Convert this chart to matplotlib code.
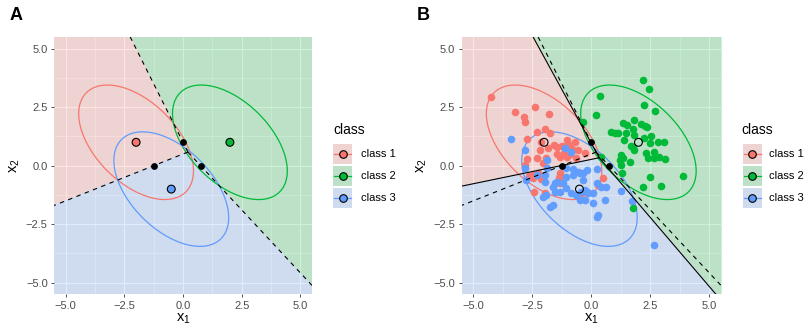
import numpy as np
import matplotlib
matplotlib.use('Agg')
import matplotlib.pyplot as plt
from matplotlib.patches import Ellipse, Rectangle

plt.rcParams['font.family'] = ['Liberation Sans', 'DejaVu Sans']
plt.rcParams['mathtext.fontset'] = 'custom'
plt.rcParams['mathtext.rm'] = 'Liberation Sans'
plt.rcParams['mathtext.it'] = 'Liberation Sans'
plt.rcParams['mathtext.default'] = 'regular'

# ---------------- data ----------------
class_names = ['class 1', 'class 2', 'class 3']
class_colors = ['#F8766D', '#00BA38', '#619CFF']
means_x1 = [-2.0, 2.0, -0.5]
means_x2 = [1.0, 1.0, -1.0]
cov = [[1.0, -0.5], [-0.5, 1.0]]
ellipse_chi2 = 5.991  # 95% level

# estimated boundaries (panel B)
est_triple = [0.34, 0.34]
est_slope_12 = -1.84
est_slope_13 = 0.208
est_slope_23 = -1.18

# sample points (panel B)
c1_x1 = [-4.27, -3.24, -2.40, -2.85, -2.82, -1.80, -2.32, -1.97, -1.74, -2.72,
         -2.11, -1.60, -1.44, -1.25, -1.04, -0.97, -0.84, -0.55, -0.70, -1.33,
         -1.04, -0.64, -0.28, -1.82, -2.31, -2.74, -2.03, -1.91, -2.19, -2.82,
         -2.63, -2.46, -2.26, -2.12, -1.33, -1.36, -1.33, -2.42, -1.97, 0.51,
         0.30, -0.41, -0.78, -1.15, -0.90, -1.47, -2.47, -1.34]
c1_x2 = [2.94, 2.30, 2.52, 2.06, 1.85, 2.22, 1.46, 1.55, 1.40, 1.15,
         1.00, 0.88, 0.79, 0.84, 1.10, 0.93, 0.75, 0.67, 1.03, 0.38,
         0.36, 0.32, 0.53, 0.74, 0.32, 0.29, 0.10, 0.32, 0.67, 0.03,
         -0.44, -0.54, -0.33, -0.58, -0.33, -0.54, -0.75, -1.12, -1.18, -0.54,
         -0.82, -1.15, 0.67, 0.55, 0.50, 0.50, -0.40, -0.40]

c2_x1 = [2.18, 2.43, 0.35, 2.22, 2.69, 0.22, -0.33, 1.34, 1.53, 1.81,
         2.12, 2.26, 2.37, 1.77, 0.85, 0.99, 1.15, 1.46, 1.81, 2.54,
         2.23, 1.37, 1.69, 1.81, 2.50, 2.83, 3.07, 2.31, 2.66, 2.40,
         2.66, 2.86, 3.11, 1.64, 1.25, 1.20, 1.27, 1.30, 2.47, 3.89,
         2.19, 2.94, 1.77, 0.43, 1.78, 1.36]
c2_x2 = [3.66, 3.27, 2.97, 2.58, 2.35, 2.16, 1.88, 1.84, 1.74, 1.97,
         1.78, 1.70, 1.67, 1.56, 1.45, 1.41, 1.38, 1.38, 1.31, 1.27,
         1.17, 1.10, 0.84, 0.67, 0.98, 1.03, 1.03, 0.56, 0.60, 0.34,
         0.32, 0.36, 0.27, 0.16, 0.46, 0.24, 0.03, -0.30, -0.47, -0.43,
         -0.90, -0.87, -1.82, 0.36, 0.78, 0.31]

c3_x1 = [-3.42, -2.81, -1.89, -2.82, -1.12, -0.86, -1.96, -2.77, -2.32, -1.94,
         -1.61, -1.47, -1.19, -1.06, -0.78, -0.49, -0.35, -0.17, 0.25, -1.53,
         -1.34, -1.06, -0.85, -0.64, -0.42, -0.25, -0.14, 0.07, 0.42, 0.64,
         0.57, 0.07, -1.62, -1.76, 0.28, 0.25, -0.28, -0.48, -1.91, -2.03,
         1.27, 1.72, 2.68, -1.05, -0.76, -0.55, -0.34, 0.23, -1.89, -1.54,
         -0.20]
c3_x2 = [1.14, 0.65, 0.24, -0.11, 0.76, 0.57, -0.40, -0.61, -0.40, -0.68,
         -0.90, -0.68, -0.75, -0.11, -0.15, -0.33, -0.33, -0.18, -0.15, -0.75,
         -1.11, -0.97, -1.18, -1.25, -1.11, -1.04, -1.18, -1.18, -0.90, -0.90,
         -1.47, -1.58, -1.68, -1.75, -2.11, -2.21, -1.47, -1.47, -1.25, -1.32,
         -1.07, -1.51, -3.39, -0.47, -0.40, -0.26, -0.61, -0.73, -0.11, -1.11,
         -1.11]

tick_values = [-5.0, -2.5, 0.0, 2.5, 5.0]
tick_labels = ['\u22125.0', '\u22122.5', '0.0', '2.5', '5.0']
minor_values = [-3.75, -1.25, 1.25, 3.75]

# ---------------- helpers ----------------
W_PX, H_PX = 806, 325
fig = plt.figure(figsize=(W_PX / 100, H_PX / 100), dpi=100)

LIM = 5.5
REGION_ALPHA = 0.2


def px_axes(x0, y0, x1, y1):
    return fig.add_axes([x0 / W_PX, 1 - y1 / H_PX, (x1 - x0) / W_PX, (y1 - y0) / H_PX])


def style(ax):
    ax.set_xlim(-LIM, LIM)
    ax.set_ylim(-LIM, LIM)
    ax.set_facecolor('#EBEBEB')
    ax.set_xticks(tick_values)
    ax.set_xticklabels(tick_labels)
    ax.set_yticks(tick_values)
    ax.set_yticklabels(tick_labels)
    ax.set_xticks(minor_values, minor=True)
    ax.set_yticks(minor_values, minor=True)
    ax.set_axisbelow(True)
    ax.grid(which='major', color='white', lw=0.8)
    ax.grid(which='minor', color='white', lw=0.4)
    for s in ax.spines.values():
        s.set_visible(False)
    ax.tick_params(which='major', length=2.5, width=0.6, color='#333333',
                   labelcolor='#4D4D4D', labelsize=8, pad=2)
    ax.tick_params(which='minor', length=0)
    ax.set_xlabel('$x_1$', fontsize=10.5, labelpad=1)
    ax.set_ylabel('$x_2$', fontsize=10.5, labelpad=3)


grid = np.linspace(-LIM, LIM, 800)
GX, GY = np.meshgrid(grid, grid)
rgb = np.array([matplotlib.colors.to_rgb(c) for c in class_colors])


def draw_regions(ax, labels):
    img = np.zeros(labels.shape + (4,))
    img[..., :3] = rgb[labels]
    img[..., 3] = REGION_ALPHA
    ax.imshow(img, extent=(-LIM, LIM, -LIM, LIM), origin='lower',
              interpolation='nearest', aspect='auto', zorder=0.8)


mu = np.column_stack([means_x1, means_x2])
S = np.array(cov)
Sinv = np.linalg.inv(S)
Wd = mu @ Sinv
bd = -0.5 * np.sum(Wd * mu, axis=1)
true_labels = np.argmax(np.stack([GX * Wd[k, 0] + GY * Wd[k, 1] + bd[k] for k in range(3)]), axis=0)

# true triple point
A = np.array([Wd[0] - Wd[1], Wd[0] - Wd[2]])
rhs = -np.array([bd[0] - bd[1], bd[0] - bd[2]])
T_true = np.linalg.solve(A, rhs)

pairs = [(0, 1, 2), (0, 2, 1), (1, 2, 0)]


def true_rays():
    rays = []
    for k, l, m in pairs:
        n = Wd[k] - Wd[l]
        d = np.array([-n[1], n[0]])
        d /= np.linalg.norm(d)
        if (Wd[k] - Wd[m]) @ d < 0:
            d = -d
        rays.append(d)
    return rays


def draw_rays(ax, T, rays, ls):
    for d in rays:
        ax.plot([T[0], T[0] + 30 * d[0]], [T[1], T[1] + 30 * d[1]], color='black',
                lw=0.8, ls=ls, zorder=4)


# estimated rays
est_T = np.array(est_triple)
r12 = np.array([-1.0, -est_slope_12]); r12 /= np.linalg.norm(r12)
r13 = np.array([-1.0, -est_slope_13]); r13 /= np.linalg.norm(r13)
r23 = np.array([1.0, est_slope_23]); r23 /= np.linalg.norm(r23)
a12 = np.arctan2(r12[1], r12[0]) % (2 * np.pi)
a13 = np.arctan2(r13[1], r13[0]) % (2 * np.pi)
a23 = np.arctan2(r23[1], r23[0]) % (2 * np.pi)
ang = np.arctan2(GY - est_T[1], GX - est_T[0]) % (2 * np.pi)
est_labels = np.full(GX.shape, 1)
est_labels[(ang >= a12) & (ang < a13)] = 0
est_labels[(ang >= a13) & (ang < a23)] = 2


def draw_ellipses(ax):
    vals, vecs = np.linalg.eigh(S)
    angle = np.degrees(np.arctan2(vecs[1, -1], vecs[0, -1]))
    for k in range(3):
        e = Ellipse((mu[k, 0], mu[k, 1]), 2 * np.sqrt(ellipse_chi2 * vals[-1]),
                    2 * np.sqrt(ellipse_chi2 * vals[0]), angle=angle, fill=False,
                    edgecolor=class_colors[k], lw=0.9, zorder=3)
        ax.add_patch(e)


def draw_midpoints(ax):
    mids = np.array([(mu[k] + mu[l]) / 2 for k, l, m in pairs])
    ax.scatter(mids[:, 0], mids[:, 1], s=24, color='black', zorder=6, lw=0)


# ---------------- panel A ----------------
axA = px_axes(54, 37, 312, 294.4)
style(axA)
draw_regions(axA, true_labels)
draw_ellipses(axA)
draw_rays(axA, T_true, true_rays(), (0, (4, 4)))
draw_midpoints(axA)
axA.scatter(mu[:, 0], mu[:, 1], s=32, c=class_colors, edgecolors='black', lw=0.8, zorder=6)

# ---------------- panel B ----------------
axB = px_axes(461.5, 37, 721, 294.4)
style(axB)
draw_regions(axB, est_labels)
draw_ellipses(axB)
for xs, ys, col in [(c1_x1, c1_x2, class_colors[0]), (c3_x1, c3_x2, class_colors[2]),
                    (c2_x1, c2_x2, class_colors[1])]:
    axB.scatter(xs, ys, s=30, color=col, lw=0, zorder=3.5)
draw_rays(axB, T_true, true_rays(), (0, (4, 4)))
draw_rays(axB, est_T, [r12, r13, r23], '-')
draw_midpoints(axB)
axB.scatter(mu[:, 0], mu[:, 1], s=32, facecolors='none', edgecolors='black', lw=0.8, zorder=6)

# ---------------- legends ----------------
def legend(x_title, x_key, x_lab):
    lax = px_axes(x_title - 5, 115, x_lab + 50, 212)
    lax.set_xlim(x_title - 5, x_lab + 50)
    lax.set_ylim(212, 115)
    lax.axis('off')
    lax.text(x_title, 130, 'class', fontsize=10, va='center', ha='left', color='black')
    for k in range(3):
        yc = 154 + 22 * k
        lax.add_patch(Rectangle((x_key, yc - 10), 19, 20, facecolor='#EBEBEB', edgecolor='none'))
        lax.add_patch(Rectangle((x_key, yc - 10), 19, 20, facecolor=class_colors[k],
                                alpha=REGION_ALPHA, edgecolor='none'))
        lax.plot([x_key + 1, x_key + 18], [yc, yc], color=class_colors[k], lw=0.9)
        lax.scatter([x_key + 9.5], [yc], s=30, color=class_colors[k], edgecolors='black',
                    lw=0.8, zorder=3)
        lax.text(x_lab, yc, class_names[k], fontsize=8, va='center', ha='left')


legend(333, 333, 360.7)
legend(741.7, 742.7, 769.3)

fig.text(10 / W_PX, 1 - 15 / H_PX, 'A', fontsize=13, fontweight='bold', va='center', ha='left')
fig.text(417 / W_PX, 1 - 15 / H_PX, 'B', fontsize=13, fontweight='bold', va='center', ha='left')

fig.savefig('out.png', dpi=100)
